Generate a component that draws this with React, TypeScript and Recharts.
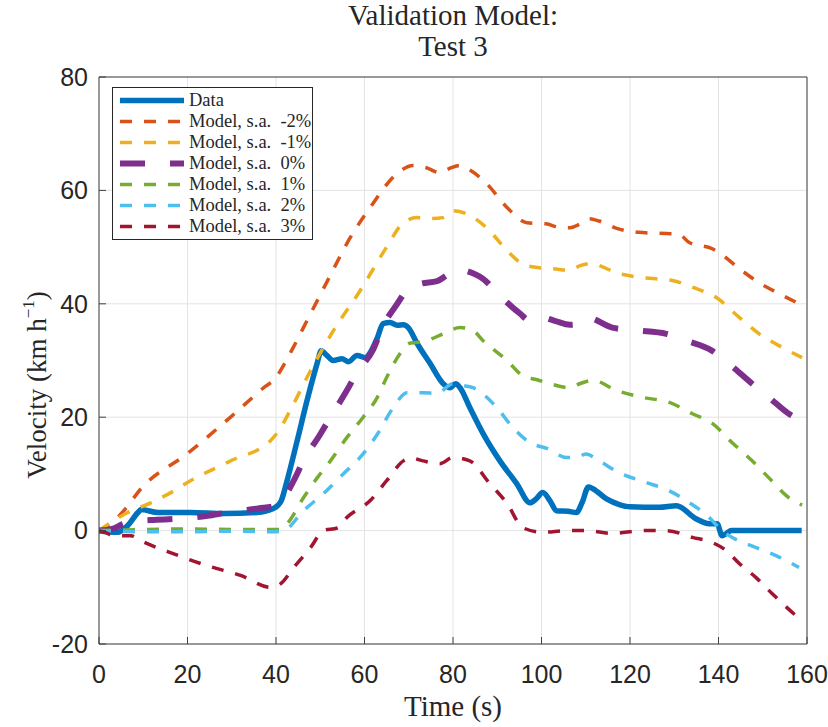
import React from "react";
import { LineChart, Line, XAxis, YAxis, CartesianGrid, ReferenceLine } from "recharts";

// ---------- data ----------
const dataT = [0, 2, 4.2, 6.5, 8.8, 9.5, 13.3, 20.7, 28.2, 35.7, 39.4, 40.5, 41.2, 42.5, 44.8, 47, 49.3, 50.2, 51.5, 52.9, 54.9, 56.4, 58.3, 60.2, 61.3, 62.9, 64.2, 65.8, 67.4, 68.8, 69.9, 71.9, 74.8, 77.8, 79.3, 80.6, 81.6, 83.8, 86.8, 90.6, 94.4, 97.4, 98.8, 100.3, 101.9, 103.4, 106, 107.9, 109.2, 110.6, 111.6, 114.7, 117.6, 119.9, 126.6, 130.5, 134.9, 137.9, 139.7, 140.8, 141.8, 142.9, 150, 158.8];
const dataV = [0, -0.2, -0.3, 0.9, 3.2, 3.7, 3.2, 3.2, 3.0, 3.2, 3.9, 4.5, 5.3, 8.8, 15.9, 22.9, 29.5, 31.7, 30.9, 30.0, 30.3, 29.8, 30.9, 30.5, 31.4, 34.0, 36.5, 36.7, 36.2, 36.3, 35.8, 33.0, 29.5, 25.9, 25.2, 25.9, 25.2, 21.7, 17.1, 12.3, 8.3, 4.9, 5.6, 6.7, 5.3, 3.5, 3.4, 3.2, 5.0, 7.7, 7.4, 5.6, 4.6, 4.2, 4.1, 4.4, 2.1, 1.2, 1.2, -0.9, -0.5, 0, 0, 0];

const m2T = [0, 2.7, 5.6, 9.5, 20, 30, 37.2, 40, 41, 43.7, 46.2, 51.6, 56.8, 61.3, 67.4, 71, 74, 77, 79, 81.6, 84, 87.6, 92.2, 96.7, 101, 104, 106.4, 108.5, 110.9, 113, 117, 122, 128.2, 131, 133.4, 138.6, 140.2, 144.7, 149.2, 153.7, 158.2];
const m2V = [0, 1.2, 3.5, 7.4, 13.6, 20.2, 25.2, 27, 28.2, 32, 35.8, 44, 51.7, 57, 63, 64.4, 64, 63.1, 63.8, 64.4, 63.5, 61.2, 57, 54.3, 54.1, 53.5, 53.4, 54, 55, 54.6, 53.3, 52.6, 52.4, 52.3, 50.8, 49.7, 49, 46.2, 43.7, 41.8, 40];

const m1T = [0, 6.5, 11.7, 16.9, 20, 30, 38.8, 40.5, 44, 47.8, 53, 59, 65, 68.8, 71.9, 74, 77.8, 80, 83, 87.6, 92.2, 95.8, 99, 102.6, 106.4, 108.6, 110.9, 117.6, 122.8, 129.6, 134.9, 139.5, 144.7, 149.2, 154.4, 158.9];
const m1V = [0, 3.2, 4.9, 7, 8.5, 12.4, 15.9, 17.5, 22.4, 28.2, 35.3, 42.3, 50, 54.3, 55.2, 55, 55.2, 56.4, 55.9, 53.4, 49.4, 47, 46.4, 46.2, 45.9, 46.7, 47.1, 45.3, 44.6, 44.1, 42.7, 41.1, 37.6, 34.7, 32.3, 30.5];

const p0T = [0, 3, 5.6, 8.5, 13, 18, 24.5, 29, 36, 40, 41.5, 44, 46.2, 50, 52.3, 56, 58.3, 62, 64, 67.4, 70.3, 73, 76.4, 78.5, 80.9, 83, 86.8, 90.6, 95.1, 97.4, 99.6, 103, 106.4, 108.5, 110.2, 116, 121.4, 128.2, 132.7, 138.6, 142.4, 147.6, 151.4, 155.9, 158.9];
const p0V = [0, 0.3, 1.2, 1.7, 1.9, 2.1, 2.6, 3.2, 3.9, 4.4, 5.5, 8.8, 12.3, 17, 20, 24.7, 27.9, 32, 35.8, 40, 43.0, 43.6, 44.0, 45, 46.2, 45.8, 44.4, 41.4, 38.3, 37, 37.7, 37, 36.3, 36.5, 37.6, 35.8, 35.3, 34.7, 33.5, 31.7, 29.4, 25.9, 23.5, 20.6, 19.4];

const p1T = [0, 10, 20, 30, 40, 41, 42.5, 46.2, 49.3, 52.3, 56, 59.7, 62.9, 65, 68, 70, 71.9, 74, 77.8, 81.6, 84.5, 86.8, 92.2, 95.8, 99, 101.9, 106.4, 108.6, 111.6, 117, 122.8, 128.9, 134.1, 138.6, 143.1, 147.6, 151.4, 155.9, 158.9];
const p1V = [0, 0.2, 0.3, 0.2, 0.2, 0.2, 1.2, 5.8, 9.3, 12.3, 16.4, 20, 23.5, 27, 31.2, 33, 33.2, 33.5, 34.7, 35.8, 35.3, 33.5, 30, 27.3, 26.6, 25.9, 25.2, 25.9, 26.5, 24.7, 23.5, 22.6, 20.6, 18.9, 15.5, 12.3, 9.3, 5.8, 4.5];

const p2T = [0, 10, 20, 30, 40, 41.8, 46.2, 50.7, 55.2, 59, 62.9, 66.5, 69.6, 73.2, 76.4, 80, 82, 84.5, 89.9, 93.5, 97.4, 101.2, 105.7, 108, 110, 113, 117.6, 123.6, 128.9, 132.7, 137.9, 140.8, 143.1, 148.5, 153, 158.2];
const p2V = [0, -0.2, -0.2, -0.1, -0.2, 0, 3.5, 6.5, 10, 12.9, 17, 21.7, 24.3, 24.3, 24.2, 25.9, 25.6, 25.2, 21.7, 18.2, 15.5, 14.5, 12.9, 12.9, 13.5, 12.3, 10.2, 8.5, 7, 5.3, 2.3, 0, -1.2, -3, -4.4, -6.5];

const p3T = [0, 1, 3.4, 7.2, 9.5, 16.9, 24.5, 32, 38.8, 41, 44, 47.8, 50.7, 53.9, 56, 61.3, 65, 68.8, 70.5, 73.2, 77, 80, 83.8, 88.3, 92.2, 95.8, 100.3, 105.7, 110.2, 116, 122.8, 128.2, 134.1, 138.6, 141.7, 144.7, 148.5, 152.1, 157.5, 159];
const p3V = [0, -0.2, -0.9, -0.9, -1.8, -4.1, -6.2, -7.9, -10, -9.4, -6.5, -3, 0, 0.5, 2.3, 5.3, 8.8, 12.3, 12.8, 12.3, 11.8, 12.9, 12.3, 8.3, 4.8, 0.5, -0.3, 0, 0, -0.5, 0, 0, -1.2, -2.1, -3.5, -5.8, -8.3, -11.1, -15, -16];

const xTicks = [0, 20, 40, 60, 80, 100, 120, 140, 160];
const yTicks = [-20, 0, 20, 40, 60, 80];

const seriesNames = ["Data", "Model, s.a.  -2%", "Model, s.a.  -1%", "Model, s.a.  0%", "Model, s.a.  1%", "Model, s.a.  2%", "Model, s.a.  3%"];
const seriesColors = ["#0072BD", "#D95319", "#EDB120", "#7E2F8E", "#77AC30", "#4DBEEE", "#A2142F"];
const seriesWidths = [5.5, 3.5, 3.5, 6, 3.5, 3.5, 3.5];
const seriesDash = ["", "12 12", "12 12", "25 25", "12 12", "12 12", "12 12"];
const seriesT = [dataT, m2T, m1T, p0T, p1T, p2T, p3T];
const seriesV = [dataV, m2V, m1V, p0V, p1V, p2V, p3V];

const toPts = (t: number[], v: number[]) => t.map((tt, i) => ({ t: tt, v: v[i] }));

const W = 828;
const H = 727;
const serif = "'Liberation Serif', 'Times New Roman', serif";
const sans = "'Liberation Sans', Arial, sans-serif";
const ink = "#262626";
const axisCol = "#404040";

function LegendBox() {
  return (
    <div
      style={{
        position: "absolute",
        left: 112,
        top: 87,
        width: 201,
        height: 153,
        border: `1px solid ${ink}`,
        background: "#fff",
        boxSizing: "border-box",
        fontFamily: serif,
        fontSize: 18.5,
        color: ink,
      }}
    >
      {seriesNames.map((n, i) => (
        <div key={n} style={{ position: "absolute", left: 0, top: 2 + i * 21, height: 21, display: "flex", alignItems: "center" }}>
          <svg width={72} height={21} style={{ display: "block" }}>
            <line
              x1={7}
              x2={71}
              y1={10.5}
              y2={10.5}
              stroke={seriesColors[i]}
              strokeWidth={seriesWidths[i]}
              strokeDasharray={seriesDash[i] || undefined}
            />
          </svg>
          <span style={{ whiteSpace: "pre", marginLeft: 4, lineHeight: "21px" }}>{n}</span>
        </div>
      ))}
    </div>
  );
}

export default function App() {
  return (
    <div style={{ position: "absolute", left: 0, top: 0, width: W, height: H, background: "#fff" }}>
      <LineChart width={W} height={H} margin={{ top: 77, right: 21, bottom: 0, left: 0 }}>
        <CartesianGrid stroke="#e3e3e3" strokeWidth={1} />
        <XAxis
          dataKey="t"
          type="number"
          domain={[0, 160]}
          ticks={xTicks}
          height={83}
          allowDataOverflow
          tickSize={-7}
          tickMargin={28}
          tick={{ fontFamily: sans, fontSize: 25, fill: ink }}
          stroke={axisCol}
          tickLine={{ stroke: axisCol }}
          axisLine={{ stroke: axisCol }}
        />
        <XAxis
          xAxisId="top"
          orientation="top"
          dataKey="t"
          type="number"
          domain={[0, 160]}
          ticks={xTicks}
          height={0}
          allowDataOverflow
          tickSize={-7}
          tick={false}
          stroke={axisCol}
          tickLine={{ stroke: axisCol }}
          axisLine={{ stroke: axisCol }}
        />
        <YAxis
          type="number"
          domain={[-20, 80]}
          ticks={yTicks}
          width={99}
          allowDataOverflow
          tickSize={-7}
          tickMargin={18}
          tick={{ fontFamily: sans, fontSize: 25, fill: ink }}
          stroke={axisCol}
          tickLine={{ stroke: axisCol }}
          axisLine={{ stroke: axisCol }}
        />
        <YAxis
          yAxisId="right"
          orientation="right"
          type="number"
          domain={[-20, 80]}
          ticks={yTicks}
          width={0}
          allowDataOverflow
          tickSize={-7}
          tick={false}
          stroke={axisCol}
          tickLine={{ stroke: axisCol }}
          axisLine={{ stroke: axisCol }}
        />
        <ReferenceLine y={80} stroke={axisCol} strokeWidth={1} />
        <ReferenceLine x={160} stroke={axisCol} strokeWidth={1} />
        {seriesNames.map((n, i) => (
          <Line
            key={n}
            data={toPts(seriesT[i], seriesV[i])}
            dataKey="v"
            name={n}
            type="monotoneX"
            stroke={seriesColors[i]}
            strokeWidth={seriesWidths[i]}
            strokeDasharray={seriesDash[i] || undefined}
            dot={false}
            activeDot={false}
            isAnimationActive={false}
          />
        ))}
      </LineChart>
      <div style={{ position: "absolute", left: 99, width: 708, top: 0, textAlign: "center", fontFamily: serif, fontSize: 29, color: ink, lineHeight: "31px" }}>
        <div>Validation Model:</div>
        <div>Test 3</div>
      </div>
      <div style={{ position: "absolute", left: 99, width: 708, top: 689, textAlign: "center", fontFamily: serif, fontSize: 29, color: ink, lineHeight: "34px" }}>
        Time (s)
      </div>
      <div
        style={{
          position: "absolute",
          left: 37,
          top: 385,
          transform: "translate(-50%, -50%) rotate(-90deg)",
          whiteSpace: "nowrap",
          fontFamily: serif,
          fontSize: 27,
          color: ink,
        }}
      >
        Velocity (km h<sup style={{ fontSize: 17, verticalAlign: "0.7em", lineHeight: 0 }}>−1</sup>)
      </div>
      <LegendBox />
    </div>
  );
}
